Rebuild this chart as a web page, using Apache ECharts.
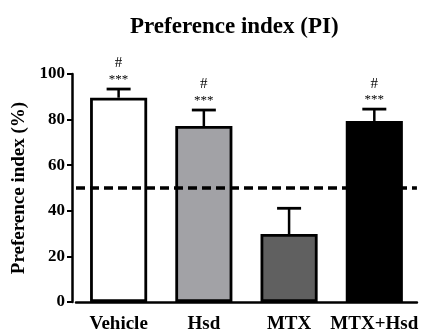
<!DOCTYPE html>
<html><head><meta charset="utf-8">
<script src="https://cdn.jsdelivr.net/npm/echarts@6/dist/echarts.min.js"></script>
<style>html,body{margin:0;padding:0;background:#fff}#c{width:421px;height:334px}</style>
</head><body><div id="c"></div>
<script>
const categories = ['Vehicle', 'Hsd', 'MTX', 'MTX+Hsd'];
const means = [89.6, 77.2, 29.8, 79.4];
const errUpper = [93.4, 84.2, 41.1, 84.6];
const starLabels = ['***', '***', '', '***'];
const hashLabels = ['#', '#', '', '#'];
const barColors = ['#ffffff', '#a2a2a6', '#606060', '#000000'];
const yTicks = [0, 20, 40, 60, 80, 100];
const refLine = 50;

const FONT = 'Liberation Serif';
const chart = echarts.init(document.getElementById('c'), null, {renderer: 'canvas'});
chart.setOption({
  animation: false,
  title: {text: 'Preference index (PI)', left: 125, top: 11,
    textStyle: {fontFamily: FONT, fontWeight: 'bold', fontSize: 23, color: '#000'}},
  grid: {left: 76, right: 2, top: 74, bottom: 32, containLabel: false},
  xAxis: {type: 'category', data: categories,
    axisLine: {lineStyle: {color: '#000', width: 2.5}},
    axisTick: {alignWithLabel: true, length: 5, lineStyle: {color: '#000', width: 2}},
    axisLabel: {fontFamily: FONT, fontWeight: 'bold', fontSize: 19, color: '#000', margin: 13, interval: 0}},
  yAxis: {type: 'value', min: yTicks[0], max: yTicks[yTicks.length-1], interval: 20, offset: 4,
    name: 'Preference index (%)', nameLocation: 'middle', nameGap: 43,
    nameTextStyle: {fontFamily: FONT, fontWeight: 'bold', fontSize: 19, color: '#000'},
    splitLine: {show: false},
    axisLine: {show: true, lineStyle: {color: '#000', width: 2.5}},
    axisTick: {show: true, length: 5, lineStyle: {color: '#000', width: 2}},
    axisLabel: {fontFamily: FONT, fontWeight: 'bold', fontSize: 17, color: '#000', margin: 7}},
  series: [
    {type: 'bar', barWidth: '67%',
      data: means.map((v, i) => ({value: v, itemStyle: {color: barColors[i]}})),
      itemStyle: {borderColor: '#000', borderWidth: 2.8},
      markLine: {silent: true, symbol: 'none', label: {show: false},
        lineStyle: {color: '#000', type: [9, 5], width: 3.5},
        data: [{yAxis: refLine}]}},
    {type: 'custom', z: 5,
      data: means.map((v, i) => [i, v, errUpper[i]]),
      renderItem: function (params, api) {
        const i = api.value(0);
        const base = api.coord([i, api.value(1)]);
        const top = api.coord([i, api.value(2)]);
        const hw = 12;
        const children = [
          {type: 'line', shape: {x1: base[0], y1: base[1], x2: top[0], y2: top[1]}, style: {stroke: '#000', lineWidth: 2.5}},
          {type: 'line', shape: {x1: top[0]-hw, y1: top[1], x2: top[0]+hw, y2: top[1]}, style: {stroke: '#000', lineWidth: 2.8}}
        ];
        if (starLabels[i]) children.push({type: 'text', style: {text: starLabels[i], x: top[0], y: top[1]-3, align: 'center', verticalAlign: 'bottom', fontFamily: FONT, fontSize: 13, fill: '#000'}});
        if (hashLabels[i]) children.push({type: 'text', style: {text: hashLabels[i], x: top[0], y: top[1]-18, align: 'center', verticalAlign: 'bottom', fontFamily: FONT, fontSize: 15, fill: '#000'}});
        return {type: 'group', children: children};
      }}
  ]
});
</script></body></html>
